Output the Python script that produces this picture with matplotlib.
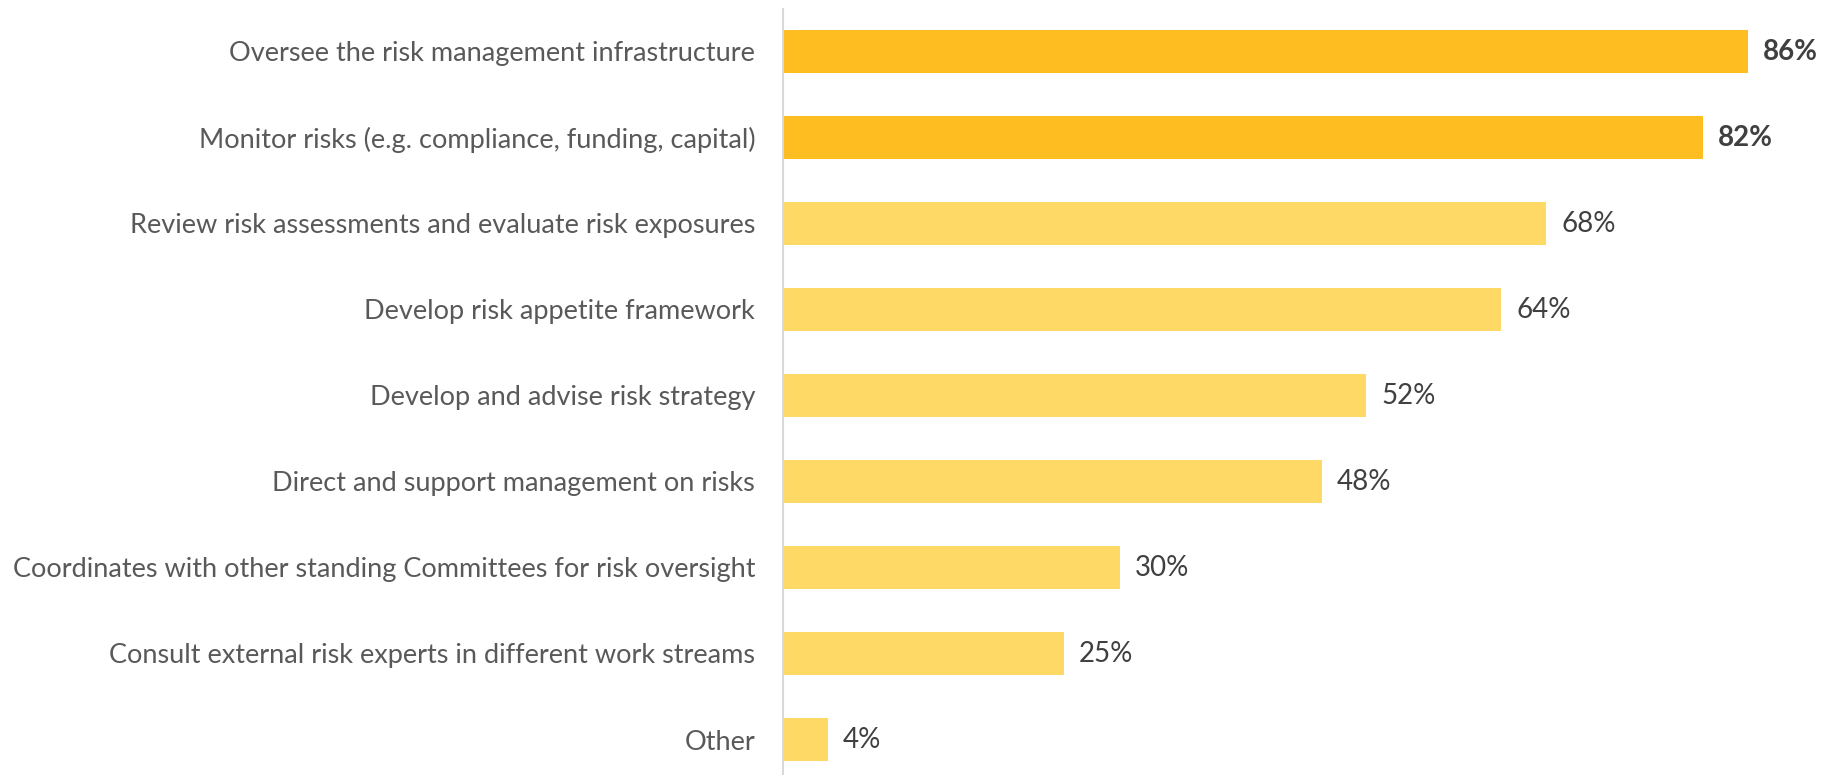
import matplotlib
matplotlib.use('Agg')
import matplotlib.pyplot as plt

###############################
# Data

categories = ['Oversee the risk management infrastructure',
              'Monitor risks (e.g. compliance, funding, capital)',
              'Review risk assessments and evaluate risk exposures',
              'Develop risk appetite framework',
              'Develop and advise risk strategy',
              'Direct and support management on risks',
              'Coordinates with other standing Committees for risk oversight',
              'Consult external risk experts in different work streams',
              'Other']
values = [86, 82, 68, 64, 52, 48, 30, 25, 4]
highlighted = [True, True, False, False, False, False, False, False, False]

###############################
# Style

dark_gold = '#FEBE22'
light_gold = '#FED966'
label_grey = '#595959'
value_grey = '#404040'
plt.rcParams['font.family'] = ['Lato', 'DejaVu Sans']

W, H, dpi = 1833, 775, 100
fig = plt.figure(figsize=(W / dpi, H / dpi), dpi=dpi)

# axes placed in pixels: value axis at x=783, top at y=9
left_px, top_px = 783, 9
ax = fig.add_axes([left_px / W, 0, 1 - left_px / W, 1 - top_px / H])

px_per_pct = 11.22
ax.set_xlim(0, (W - left_px) / px_per_pct)
pitch = 86.0
first_center = 51.5
ax.set_ylim((H - first_center) / pitch, -(first_center - top_px) / pitch)

ypos = list(range(len(categories)))
colors = [dark_gold if h else light_gold for h in highlighted]
ax.barh(ypos, values, height=0.5, color=colors, left=0)

for y, v, h in zip(ypos, values, highlighted):
    ax.annotate('%d%%' % v, xy=(v, y), xytext=(11, 0), textcoords='offset points',
                ha='left', va='center', fontsize=20, color=value_grey,
                fontweight='bold' if h else 'normal')

ax.set_yticks(ypos)
ax.set_yticklabels(categories, fontsize=19.5, color=label_grey)
ax.tick_params(axis='y', length=0, pad=20)
ax.set_xticks([])

for s in ['top', 'right', 'bottom']:
    ax.spines[s].set_visible(False)
ax.spines['left'].set_color('#D9D9D9')
ax.spines['left'].set_linewidth(1.5)

fig.savefig('out.png', dpi=dpi)
